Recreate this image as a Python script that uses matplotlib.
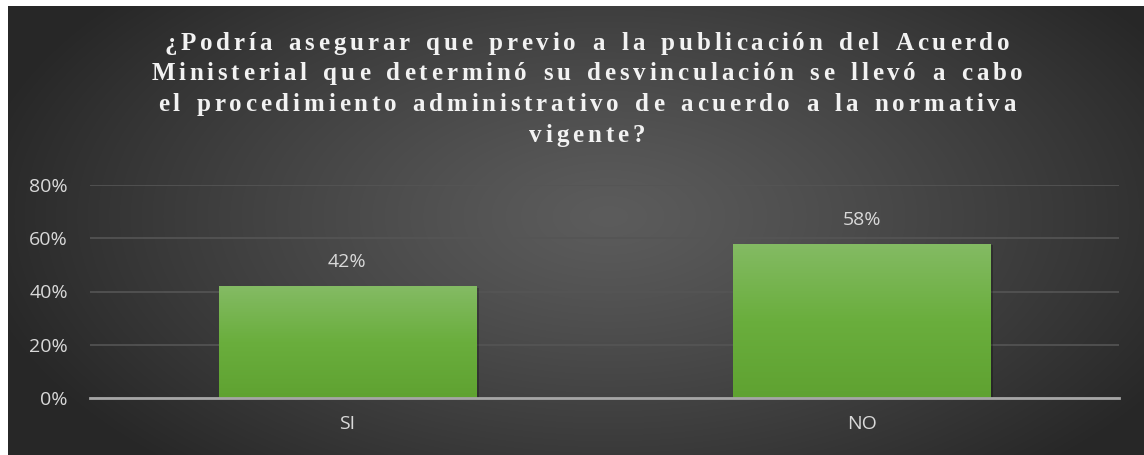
import matplotlib.pyplot as plt
import numpy as np
from matplotlib.colors import LinearSegmentedColormap

# data
categories = ['SI', 'NO']
values = [0.42, 0.58]
labels = ['42%', '58%']
yticks = [0, 0.2, 0.4, 0.6, 0.8]
ytick_labels = ['0%', '20%', '40%', '60%', '80%']
title_lines = ['¿Podría asegurar que previo a la publicación del Acuerdo',
               'Ministerial que determinó su desvinculación se llevó a cabo',
               'el procedimiento administrativo de acuerdo a la normativa',
               'vigente?']

W, H = 1144, 455
fig = plt.figure(figsize=(W / 100, H / 100), dpi=100)
fig.patch.set_facecolor('white')

# radial gradient background
bg = fig.add_axes([8 / W, 0, 1 - 8 / W, 1 - 6 / H])
bg.set_axis_off()
yy, xx = np.mgrid[0:449, 0:1136]
cx, cy = 600, 210
d = np.sqrt(((xx - cx) / 640.0) ** 2 + ((yy - cy) / 340.0) ** 2)
d = np.clip(d, 0, 1)
val = 0.36 - 0.205 * d ** 1.2
bg.imshow(np.dstack([val, val, val]), aspect='auto', interpolation='bilinear')

ax = fig.add_axes([90 / W, 57 / H, (1119 - 90) / W, (398 - 185) / H])
ax.patch.set_alpha(0)
x = np.arange(len(categories))
bars = ax.bar(x, values, width=0.5, color='#6aac3c', zorder=3)

green = LinearSegmentedColormap.from_list('g', ['#5fa231', '#6aae3d', '#84bb64'])
grad = np.linspace(0, 1, 256).reshape(-1, 1)
for b in bars:
    x0, y0 = b.get_x(), b.get_y()
    w, h = b.get_width(), b.get_height()
    im = ax.imshow(grad, cmap=green, origin='lower', aspect='auto',
                   extent=[x0, x0 + w, y0, y0 + h], zorder=4)
    im.set_clip_path(b)
    # soft shadow
    ax.bar(x0 + w / 2 + 0.006, h, width=w, bottom=-0.006, color='black',
           alpha=0.25, zorder=2)

for xi, v, lab in zip(x, values, labels):
    ax.text(xi, v + 0.09, lab, ha='center', va='center', color='#d9d9d9',
            fontsize=14, family='Open Sans')

ax.set_xlim(-0.5, 1.5)
ax.set_ylim(0, 0.8)
ax.set_yticks(yticks)
ax.set_yticklabels(ytick_labels)
ax.set_xticks(x)
ax.set_xticklabels(categories)
ax.tick_params(length=0, colors='#d9d9d9', labelsize=14)
ax.tick_params(axis='x', pad=12)
ax.tick_params(axis='y', pad=16)
for t in ax.get_xticklabels() + ax.get_yticklabels():
    t.set_family('Open Sans')
ax.grid(axis='y', color='#555555', linewidth=1.2, zorder=0)
for s in ['top', 'right', 'left']:
    ax.spines[s].set_visible(False)
ax.spines['bottom'].set_color('#a6a6a6')
ax.spines['bottom'].set_linewidth(2)
ax.spines['bottom'].set_zorder(5)

# title with letter spacing, placed char by char
renderer = fig.canvas.get_renderer()
tkw = dict(color='#f2f2f2', fontsize=18, fontweight='bold',
           family='Liberation Serif', va='baseline', ha='left')
spacing = 3.8
center_x = 587
baselines = [50, 80, 111, 142]
for line, base in zip(title_lines, baselines):
    widths = []
    for ch in line:
        t = fig.text(0, 0, ch if ch != ' ' else 'i', **tkw)
        wpx = t.get_window_extent(renderer).width
        if ch == ' ':
            wpx *= 1.3
        widths.append(wpx)
        t.remove()
    total = sum(widths) + spacing * (len(line) - 1)
    xpos = center_x - total / 2
    for ch, wpx in zip(line, widths):
        if ch != ' ':
            fig.text(xpos / W, 1 - base / H, ch, **tkw)
        xpos += wpx + spacing

fig.savefig('out.png', dpi=100, facecolor=fig.get_facecolor())
